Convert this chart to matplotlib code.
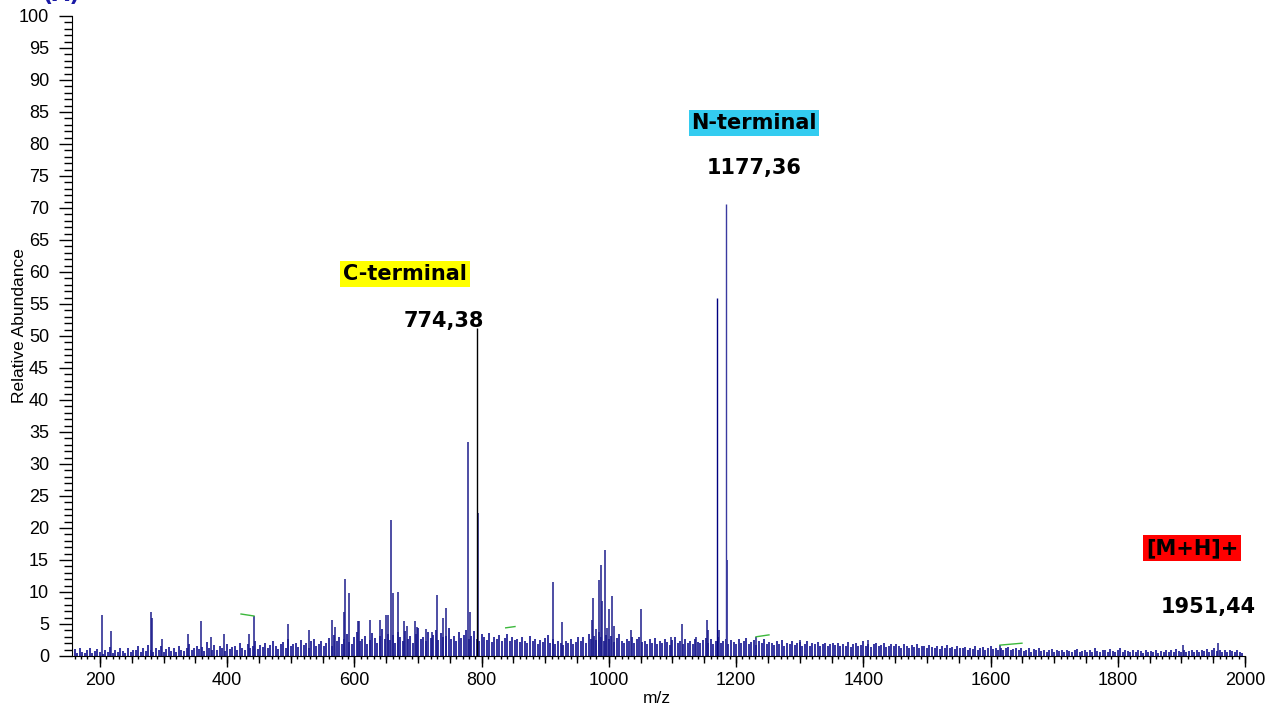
import numpy as np
import matplotlib
matplotlib.use("Agg")
import matplotlib.pyplot as plt
from matplotlib.ticker import MultipleLocator, FuncFormatter

# background noise, one bar every 4 m/z from 156 to 1996
noise_start = 156
noise_step = 4
noise_heights = [
    0.6, 1.1, 0.4, 1.3, 0.7, 0.5, 0.9, 1.2, 0.4, 0.8, 1.1, 0.6, 0.3, 1.0, 0.7, 1.4, 0.5, 0.9, 0.6, 1.2, 0.8, 0.4, 1.3, 0.7, 1.0,
    0.9, 1.5, 0.6, 1.2, 0.8, 1.7, 1.0, 0.6, 1.3, 0.9, 1.6, 0.7, 1.1, 1.4, 0.8, 1.2, 0.6, 1.5, 1.0, 0.8, 1.3, 1.8, 0.9, 1.2, 1.6,
    1.1, 1.4, 0.8, 2.2, 1.3, 1.0, 1.7, 0.9, 1.5, 1.2, 0.8, 1.9, 1.1, 1.4, 1.6, 1.0, 2.0, 1.3, 0.9, 1.8, 1.2, 1.5, 2.3, 1.1, 1.7,
    1.4, 2.0, 1.2, 1.7, 2.4, 1.5, 1.1, 1.9, 2.2, 1.3, 2.6, 1.6, 1.8, 2.1, 1.4, 2.5, 1.7, 2.0, 1.2, 2.3, 2.7, 1.6, 1.9, 2.4, 1.5,
    2.1, 2.8, 1.6, 3.3, 2.4, 3.0, 1.9, 2.6, 3.5, 2.2, 1.8, 2.9, 3.8, 2.3, 2.7, 3.2, 1.9, 2.5, 3.6, 2.8, 2.1, 3.1, 4.2, 2.6, 3.4,
    2.5, 3.3, 2.0, 3.7, 2.9, 2.3, 3.9, 2.7, 3.2, 2.1, 3.5, 4.3, 2.6, 3.0, 2.4, 3.8, 2.8, 3.3, 4.1, 2.5, 3.6, 2.9, 3.2, 4.4, 2.7,
    3.1, 2.4, 3.7, 2.8, 3.3, 4.0, 2.6, 3.2, 3.9, 2.7, 2.3, 3.4, 2.9, 2.5, 3.6, 2.2, 3.0, 2.6, 3.3, 2.4, 2.8, 3.5, 2.3, 2.9, 2.5,
    2.6, 2.2, 2.9, 2.4, 2.0, 3.1, 2.3, 2.7, 1.9, 2.5, 2.2, 2.8, 3.3, 2.0, 2.6, 1.8, 2.4, 2.1, 1.7, 2.3, 2.0, 2.6, 1.8, 2.2, 2.9,
    2.4, 3.0, 2.1, 3.5, 2.7, 3.2, 2.5, 3.8, 2.9, 2.3, 3.3, 2.6, 3.1, 2.2, 2.8, 3.4, 2.4, 2.0, 2.7, 2.3, 3.0, 2.1, 2.6, 2.9, 2.2,
    2.3, 1.9, 2.6, 2.1, 2.8, 1.8, 2.4, 2.0, 2.7, 2.2, 1.7, 2.5, 2.9, 2.0, 2.3, 1.8, 2.6, 2.1, 2.4, 1.9, 2.7, 2.2, 2.0, 2.5, 2.8,
    2.1, 2.6, 1.8, 2.4, 2.9, 2.0, 2.3, 2.7, 1.9, 2.5, 2.2, 1.8, 2.6, 2.0, 2.4, 2.8, 1.9, 2.2, 2.5, 1.7, 2.3, 2.0, 2.6, 1.8, 2.2,
    2.0, 1.7, 2.3, 1.9, 2.5, 1.6, 2.1, 1.8, 2.4, 1.7, 2.0, 2.2, 1.6, 1.9, 2.3, 1.5, 2.0, 1.8, 2.2, 1.6, 1.9, 2.1, 1.5, 1.8, 2.0,
    1.7, 2.0, 1.5, 1.9, 1.6, 2.2, 1.4, 1.8, 2.1, 1.5, 1.7, 2.3, 1.6, 1.9, 1.4, 1.8, 2.0, 1.5, 1.7, 2.1, 1.4, 1.6, 1.9, 1.5, 1.8,
    1.6, 1.3, 1.8, 1.5, 1.2, 1.7, 1.4, 1.9, 1.3, 1.6, 1.5, 1.2, 1.7, 1.4, 1.3, 1.6, 1.1, 1.5, 1.3, 1.7, 1.2, 1.4, 1.1, 1.5, 1.3,
    1.2, 1.4, 1.0, 1.3, 1.1, 1.5, 0.9, 1.2, 1.4, 1.0, 1.3, 1.6, 1.1, 1.2, 0.9, 1.3, 1.0, 1.2, 1.4, 0.9, 1.1, 1.3, 1.0, 1.2, 0.8,
    1.0, 1.2, 0.7, 1.1, 0.9, 1.3, 0.8, 1.0, 0.6, 0.9, 1.1, 0.7, 1.0, 0.8, 0.9, 0.6, 1.0, 0.8, 0.7, 0.9, 1.1, 0.6, 0.8, 1.0, 0.7,
    0.9, 0.7, 1.2, 0.8, 0.6, 1.0, 0.9, 0.7, 1.1, 0.8, 0.6, 0.9, 1.2, 0.7, 1.0, 0.8, 0.6, 0.9, 0.7, 1.0, 0.8, 0.5, 0.9, 0.7, 0.8,
    0.7, 0.9, 0.5, 0.8, 0.6, 1.0, 0.7, 0.9, 0.6, 1.1, 0.8, 0.7, 0.9, 0.6, 0.8, 1.0, 0.7, 0.9, 0.6, 1.0, 0.8, 1.1, 0.7, 0.9, 1.2,
    0.8, 1.0, 0.6, 0.9, 0.7, 1.0, 0.8, 0.6, 0.9, 0.7, 0.5,
]

# distinct peaks
peak_mz = [
    202.7, 217.8, 279.7, 282.2, 297.0, 338.8, 359.3, 374.5, 395.0, 434.0,
    442.6, 495.0, 529.0, 565.0, 569.4, 583.6, 585.0, 592.2, 605.0, 607.0,
    624.5, 640.0, 649.6, 652.3, 656.7, 661.0, 668.0, 678.4, 683.0, 695.0,
    698.8, 712.5, 721.5, 729.3, 738.7, 743.2, 779.3, 781.0, 795.0,
    912.6, 927.0, 973.0, 974.5, 979.3, 984.0, 988.0, 989.7, 993.4, 996.6,
    999.7, 1004.4, 1008.5, 1034.3, 1050.0, 1097.0, 1115.4, 1137.0, 1153.8, 1155.8,
    1172.6, 1185.7, 1231.3, 1300.5, 1407.8, 1614.8, 1902.0, 1958.0,
]
peak_int = [
    6.4, 3.9, 6.9, 6.0, 2.7, 3.4, 5.4, 2.9, 3.4, 3.4,
    6.25, 5.0, 4.1, 5.6, 4.5, 6.9, 12.1, 9.8, 5.4, 5.5,
    5.7, 5.7, 6.4, 6.4, 21.25, 9.8, 9.95, 5.4, 4.7, 5.4,
    4.6, 4.2, 3.8, 9.6, 5.9, 7.45, 33.5, 6.9, 22.3,
    11.6, 5.3, 5.6, 9.0, 4.2, 11.9, 14.2, 8.6, 16.6, 4.3,
    7.3, 9.4, 4.7, 4.1, 7.3, 3.0, 5.0, 3.0, 5.7, 4.1,
    4.1, 15.0, 3.0, 2.5, 2.5, 1.7, 1.7, 2.0,
]

# the labelled fragment peaks
main_mz = [792.7, 1170.4, 1184.1]
main_int = [51.25, 56.0, 70.6]
main_colors = ["black", "#000080", "#3a3aa0"]

# small green marks drawn by the acquisition software
green_x = [(421.7, 442.1), (837.8, 852.4), (1231.3, 1251.7), (1614.8, 1649.4)]
green_y = [(6.56, 6.25), (4.4, 4.6), (3.0, 3.3), (1.7, 2.0)]

# annotations: text, m/z, abundance, box colour
labels = [
    ("N-terminal", 1228.1, 83.3, "#33ccf0"),
    ("1177,36", 1228.1, 76.25, None),
    ("C-terminal", 679.5, 59.7, "#ffff00"),
    ("774,38", 740.8, 52.3, None),
    ("[M+H]+", 1916.7, 16.9, "#ff0000"),
    ("1951,44", 1941.9, 7.65, None),
]

noise_mz = noise_start + noise_step * np.arange(len(noise_heights))

fig = plt.figure(figsize=(12.82, 7.09), dpi=100)
ax = fig.add_axes([72 / 1282, 1 - 656 / 709, 1173 / 1282, 640 / 709])

ax.vlines(noise_mz, 0, noise_heights, color="#3535a0", lw=1.4)
ax.vlines(peak_mz, 0, peak_int, color="#1c1c8c", lw=1.1)
ax.vlines(main_mz, 0, main_int, colors=main_colors, lw=1.0)

for (x0, x1), (y0, y1) in zip(green_x, green_y):
    ax.plot([x0, x1], [y0, y1], color="#3cb83c", lw=1.0)

for text, x, y, box in labels:
    kw = {}
    if box:
        kw["bbox"] = dict(boxstyle="square,pad=0.13", fc=box, ec="none")
    ax.text(x, y, text, ha="center", va="center", fontsize=15,
            fontweight="bold", family="DejaVu Sans", color="black", **kw)

ax.set_xlim(156, 2000)
ax.set_ylim(0, 100)

for side in ("top", "right"):
    ax.spines[side].set_visible(False)

tick_font = {"family": "Liberation Sans", "size": 13}

ax.yaxis.set_major_locator(MultipleLocator(5))
ax.yaxis.set_minor_locator(MultipleLocator(1))
ax.tick_params(axis="y", which="major", length=9.5, width=1, pad=7)
ax.tick_params(axis="y", which="minor", length=6, width=1)

ax.xaxis.set_major_locator(MultipleLocator(200))
ax.xaxis.set_minor_locator(MultipleLocator(10))
ax.tick_params(axis="x", which="major", length=8, width=1, pad=3.5)
ax.tick_params(axis="x", which="minor", length=2.5, width=1)

# medium ticks every 50 m/z
sec = ax.secondary_xaxis("bottom")
sec.xaxis.set_major_locator(MultipleLocator(50))
sec.xaxis.set_major_formatter(FuncFormatter(lambda v, p: ""))
sec.tick_params(axis="x", length=5, width=1)
sec.spines["bottom"].set_visible(False)

for lab in ax.get_xticklabels() + ax.get_yticklabels():
    lab.set_fontfamily(tick_font["family"])
    lab.set_fontsize(tick_font["size"])

ax.set_xlabel("m/z", fontsize=12.5, family="Liberation Sans")
ax.set_ylabel("Relative Abundance", fontsize=12.5, family="Liberation Sans")
ax.xaxis.set_label_coords(0.4987, -0.055)
ax.yaxis.set_label_coords(-0.038, 0.517)

# panel letter, mostly cut off by the top edge
fig.text(61 / 1282, 1 - 5 / 709, "(A)", ha="center", va="bottom",
         fontsize=16, fontweight="bold", color="#1a1aa6")

fig.savefig("out.png", dpi=100)
